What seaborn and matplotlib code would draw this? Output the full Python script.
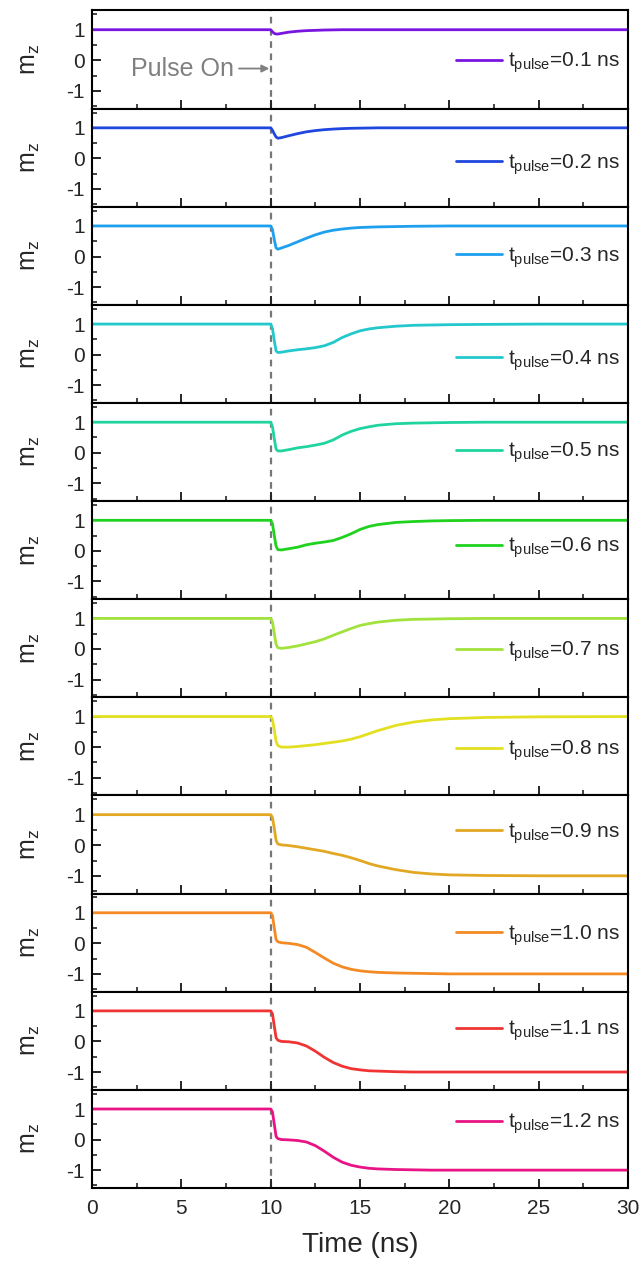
import numpy as np
import pandas as pd
import matplotlib
matplotlib.use("Agg")
import matplotlib.pyplot as plt
from matplotlib.ticker import MultipleLocator
import seaborn as sns

# time grid (ns) and m_z
time = [0, 10.0, 10.1, 10.2, 10.3, 10.4, 10.6, 11.0, 11.5, 12.0, 12.5, 13.0, 13.5,
        14.0, 14.5, 15.0, 15.5, 16.0, 17.0, 18.0, 19.0, 20.0, 22.0, 25.0, 30.0]

pulse_labels = ["0.1", "0.2", "0.3", "0.4", "0.5", "0.6", "0.7", "0.8", "0.9", "1.0", "1.1", "1.2"]

mz_01 = [1, 1, 0.93, 0.88, 0.86, 0.86, 0.88, 0.92, 0.95, 0.97, 0.98, 0.99, 0.995,
         1, 1, 1, 1, 1, 1, 1, 1, 1, 1, 1, 1]
mz_02 = [1, 1, 0.92, 0.8, 0.7, 0.66, 0.68, 0.74, 0.81, 0.87, 0.91, 0.94, 0.96,
         0.975, 0.985, 0.99, 0.995, 1, 1, 1, 1, 1, 1, 1, 1]
mz_03 = [1, 1, 0.88, 0.55, 0.28, 0.24, 0.28, 0.36, 0.48, 0.6, 0.71, 0.8, 0.86,
         0.9, 0.93, 0.95, 0.96, 0.97, 0.98, 0.99, 0.995, 1, 1, 1, 1]
mz_04 = [1, 1, 0.85, 0.45, 0.12, 0.07, 0.08, 0.12, 0.16, 0.19, 0.23, 0.29, 0.4,
         0.56, 0.68, 0.78, 0.84, 0.88, 0.93, 0.96, 0.97, 0.98, 0.99, 1, 1]
mz_05 = [1, 1, 0.85, 0.45, 0.12, 0.06, 0.06, 0.1, 0.16, 0.2, 0.25, 0.31, 0.42,
         0.58, 0.7, 0.79, 0.85, 0.9, 0.95, 0.97, 0.98, 0.99, 1, 1, 1]
mz_06 = [1, 1, 0.88, 0.5, 0.15, 0.04, 0.03, 0.07, 0.12, 0.2, 0.25, 0.29, 0.34,
         0.44, 0.56, 0.7, 0.8, 0.86, 0.93, 0.96, 0.98, 0.99, 1, 1, 1]
mz_07 = [1, 1, 0.88, 0.5, 0.15, 0.04, 0.02, 0.05, 0.1, 0.17, 0.24, 0.33, 0.45,
         0.56, 0.67, 0.77, 0.83, 0.88, 0.94, 0.97, 0.98, 0.99, 1, 1, 1]
mz_08 = [1, 1, 0.9, 0.55, 0.18, 0.05, 0.0, 0.0, 0.02, 0.05, 0.08, 0.12, 0.16,
         0.2, 0.26, 0.34, 0.44, 0.54, 0.71, 0.82, 0.89, 0.93, 0.97, 0.99, 1]
mz_09 = [1, 1, 0.9, 0.55, 0.15, 0.04, 0.01, -0.01, -0.05, -0.1, -0.15, -0.2, -0.27,
         -0.33, -0.41, -0.5, -0.6, -0.68, -0.8, -0.89, -0.94, -0.97, -0.99, -1.0, -1.0]
mz_10 = [1, 1, 0.9, 0.5, 0.12, 0.05, 0.02, 0.0, -0.04, -0.13, -0.3, -0.48, -0.65,
         -0.77, -0.85, -0.9, -0.93, -0.95, -0.97, -0.98, -0.99, -1.0, -1.0, -1.0, -1.0]
mz_11 = [1, 1, 0.9, 0.5, 0.12, 0.04, 0.0, -0.01, -0.05, -0.15, -0.32, -0.52, -0.69,
         -0.81, -0.89, -0.93, -0.96, -0.97, -0.99, -1.0, -1.0, -1.0, -1.0, -1.0, -1.0]
mz_12 = [1, 1, 0.9, 0.5, 0.1, 0.03, 0.0, -0.01, -0.03, -0.08, -0.2, -0.38, -0.58,
         -0.74, -0.84, -0.9, -0.94, -0.96, -0.98, -0.99, -1.0, -1.0, -1.0, -1.0, -1.0]

series = [mz_01, mz_02, mz_03, mz_04, mz_05, mz_06, mz_07, mz_08, mz_09, mz_10, mz_11, mz_12]

colors = ["#7a14e0", "#2046e0", "#1fa0ee", "#22c8cc", "#20d4a0", "#1ed21e",
          "#a2e23c", "#e2e020", "#e2a824", "#f48a24", "#f03434", "#e81486"]
legend_y = [0.465, 0.43, 0.48, 0.43, 0.49, 0.52, 0.46, 0.45, 0.61, 0.57, 0.6, 0.65]

sns.set_style("ticks")
plt.rcParams['font.family'] = ['Liberation Sans', 'DejaVu Sans']
plt.rcParams['mathtext.default'] = 'regular'
plt.rcParams['axes.unicode_minus'] = False

fig, axes = plt.subplots(12, 1, figsize=(6.39, 12.61), dpi=100, sharex=True)
fig.subplots_adjust(left=0.144, right=0.983, top=0.9917, bottom=0.058, hspace=0)

for i, ax in enumerate(axes):
    df = pd.DataFrame({'Time': time, 'mz': series[i]})
    sns.lineplot(data=df, x='Time', y='mz', ax=ax, color=colors[i], lw=2,
                 label=r"t$_{pulse}$=" + pulse_labels[i] + " ns")
    ax.axvline(10, color='#777777', ls=(0, (3, 2.5)), lw=1.6, zorder=0)
    ax.set_xlim(0, 30)
    ax.set_ylim(-1.58, 1.63)
    ax.set_yticks([-1, 0, 1])
    ax.yaxis.set_minor_locator(MultipleLocator(0.5))
    ax.xaxis.set_major_locator(MultipleLocator(5))
    ax.xaxis.set_minor_locator(MultipleLocator(2.5))
    ax.tick_params(which='major', direction='in', length=6.5, width=1.4, labelsize=15)
    ax.tick_params(which='minor', direction='in', length=3.5, width=1.2)
    ax.tick_params(axis='x', pad=8)
    ax.tick_params(axis='y', pad=5)
    for s in ax.spines.values():
        s.set_linewidth(1.5)
        s.set_color('black')
    ax.set_ylabel(r"m$_z$", fontsize=18, labelpad=18)
    ax.set_xlabel("")
    ax.legend(loc='center right', bbox_to_anchor=(1.0, legend_y[i]), frameon=False,
              fontsize=15, handlelength=2.2, handletextpad=0.3, borderpad=0.2,
              borderaxespad=0.2)

axes[0].annotate("Pulse On", xy=(10, -0.27), xytext=(2.2, -0.27),
                 color='#808080', fontsize=18, va='center', ha='left',
                 arrowprops=dict(arrowstyle='-|>', color='#808080', lw=1.3,
                                 shrinkA=1, shrinkB=1, mutation_scale=11))

axes[-1].set_xlabel("Time (ns)", fontsize=20, labelpad=10)

plt.savefig("out.png", dpi=100)
